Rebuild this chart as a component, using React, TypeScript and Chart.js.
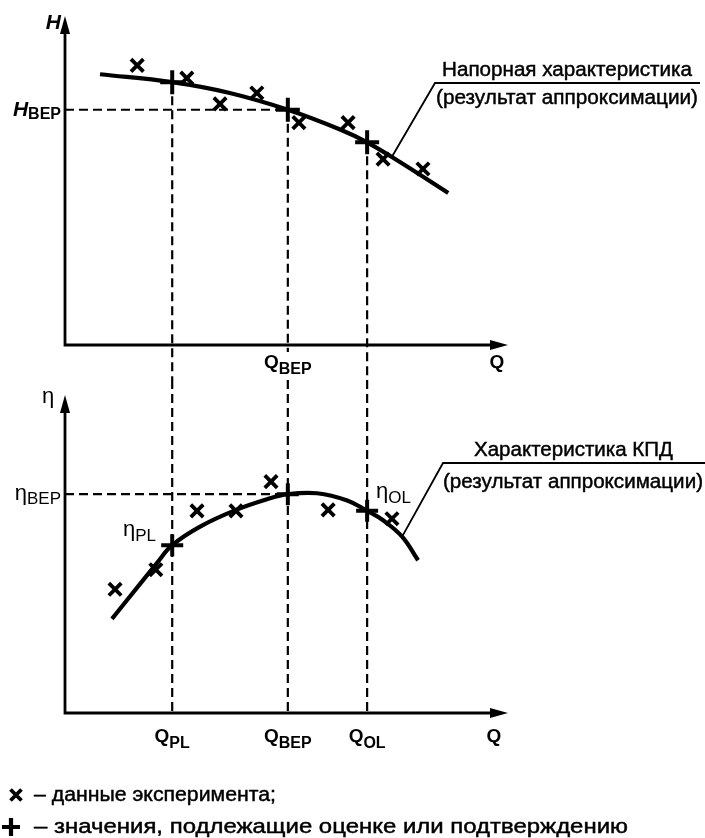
import React, { useEffect, useRef } from 'react';
import { Chart, registerables } from 'chart.js';

Chart.register(...registerables);

// ---------- scale ranges ----------
const Q_MIN = 0;
const Q_MAX = 10;
const H_MIN = 0;
const H_MAX = 10;
const ETA_MIN = 0;
const ETA_MAX = 10.1;

// ---------- key operating points: Q_PL, Q_BEP, Q_OL ----------
const keyQ = [2.42, 5.03, 6.82];
const keyNames = ['PL', 'BEP', 'OL'];

// ---------- head characteristic (top) ----------
const headFitQ = [0.79, 2.42, 3.72, 5.03, 6.21, 6.82, 7.56, 8.65];
const headFitH = [8.23, 7.99, 7.66, 7.15, 6.55, 6.16, 5.56, 4.62];
const headExpQ = [1.63, 2.75, 3.5, 4.33, 5.28, 6.39, 7.18, 8.08];
const headExpH = [8.5, 8.11, 7.33, 7.66, 6.76, 6.76, 5.65, 5.35];
const headKeyH = [7.99, 7.15, 6.16];
const headLeaderQ = 7.38;

// ---------- efficiency characteristic (bottom) ----------
const effFitQ = [1.06, 2.08, 2.42, 3.05, 3.86, 4.56, 5.03, 5.69, 6.37, 6.82, 7.18, 7.61, 7.97];
const effFitE = [2.99, 4.77, 5.33, 5.92, 6.45, 6.79, 6.95, 6.98, 6.75, 6.42, 6.12, 5.6, 4.85];
const effExpQ = [1.13, 2.05, 2.98, 3.86, 4.65, 5.94, 7.38];
const effExpE = [3.93, 4.55, 6.42, 6.42, 7.35, 6.45, 6.17];
const effKeyE = [5.33, 6.95, 6.42];
const effLeaderQ = 7.61;

// ---------- texts ----------
const headTitle = 'Напорная характеристика';
const effTitle = 'Характеристика КПД';
const fitNote = '(результат аппроксимации)';
const legendExp = '– данные эксперимента;';
const legendKey = '– значения, подлежащие оценке или подтверждению';

const FF = '"Liberation Sans", Arial, Helvetica, sans-serif';

const pts = (xs: number[], ys: number[]) => xs.map((x, i) => ({ x, y: ys[i] }));

function dashed(ctx: CanvasRenderingContext2D, x1: number, y1: number, x2: number, y2: number) {
  ctx.save();
  ctx.strokeStyle = '#000';
  ctx.lineWidth = 2.2;
  ctx.setLineDash([9, 5]);
  ctx.beginPath();
  ctx.moveTo(x1, y1);
  ctx.lineTo(x2, y2);
  ctx.stroke();
  ctx.restore();
}

function axes(ctx: CanvasRenderingContext2D, a: any) {
  ctx.save();
  ctx.strokeStyle = '#000';
  ctx.fillStyle = '#000';
  ctx.lineWidth = 2.8;
  ctx.lineJoin = 'miter';
  ctx.beginPath();
  ctx.moveTo(a.left, a.top + 12);
  ctx.lineTo(a.left, a.bottom);
  ctx.lineTo(a.right - 12, a.bottom);
  ctx.stroke();
  ctx.beginPath();
  ctx.moveTo(a.left, a.top);
  ctx.lineTo(a.left - 5, a.top + 18);
  ctx.lineTo(a.left + 5, a.top + 18);
  ctx.closePath();
  ctx.fill();
  ctx.beginPath();
  ctx.moveTo(a.right, a.bottom);
  ctx.lineTo(a.right - 18, a.bottom - 5);
  ctx.lineTo(a.right - 18, a.bottom + 5);
  ctx.closePath();
  ctx.fill();
  ctx.restore();
}

function stretchText(ctx: CanvasRenderingContext2D, s: string, left: number, cy: number, font: string, width: number) {
  ctx.save();
  ctx.font = font;
  ctx.fillStyle = '#000';
  ctx.strokeStyle = '#000';
  ctx.lineWidth = 0.45;
  ctx.textAlign = 'left';
  ctx.textBaseline = 'middle';
  const w = ctx.measureText(s).width;
  ctx.translate(left, cy);
  ctx.scale(width / w, 1);
  ctx.fillText(s, 0, 0);
  ctx.strokeText(s, 0, 0);
  ctx.restore();
}

function subText(
  ctx: CanvasRenderingContext2D,
  main: string,
  sub: string,
  x: number,
  base: number,
  mainFont: string,
  subFont: string,
  drop: number,
  align: 'left' | 'center' | 'right',
  bg = false
) {
  ctx.save();
  ctx.font = mainFont;
  const w1 = ctx.measureText(main).width;
  ctx.font = subFont;
  const w2 = sub ? ctx.measureText(sub).width : 0;
  const tw = w1 + w2;
  const left = align === 'center' ? x - tw / 2 : align === 'right' ? x - tw : x;
  if (bg) {
    ctx.fillStyle = '#fff';
    ctx.fillRect(left - 1, base - 16, tw + 2, 24 + drop);
  }
  ctx.fillStyle = '#000';
  ctx.textAlign = 'left';
  ctx.textBaseline = 'alphabetic';
  ctx.font = mainFont;
  ctx.fillText(main, left, base);
  if (sub) {
    ctx.font = subFont;
    ctx.fillText(sub, left + w1, base + drop);
  }
  ctx.restore();
}

function leader(ctx: CanvasRenderingContext2D, x1: number, y1: number, x2: number, y2: number, x3: number) {
  ctx.save();
  ctx.strokeStyle = '#000';
  ctx.lineWidth = 1.8;
  ctx.beginPath();
  ctx.moveTo(x1, y1);
  ctx.lineTo(x2, y2);
  ctx.lineTo(x3, y2);
  ctx.stroke();
  ctx.restore();
}

function curvePoint(chart: any, q: number) {
  const xs = chart.scales.x;
  const px = xs.getPixelForValue(q);
  const line = chart.getDatasetMeta(0).dataset;
  const p = line && line.interpolate ? line.interpolate({ x: px }, 'x') : null;
  return p ? { x: p.x, y: p.y } : { x: px, y: 0 };
}

function drawCrossRot(ctx: CanvasRenderingContext2D, x: number, y: number, r: number, lw: number) {
  ctx.save();
  ctx.strokeStyle = '#000';
  ctx.lineWidth = lw;
  ctx.beginPath();
  ctx.moveTo(x - r, y - r);
  ctx.lineTo(x + r, y + r);
  ctx.moveTo(x + r, y - r);
  ctx.lineTo(x - r, y + r);
  ctx.stroke();
  ctx.restore();
}

function drawPlus(ctx: CanvasRenderingContext2D, x: number, y: number, r: number, lw: number) {
  ctx.save();
  ctx.strokeStyle = '#000';
  ctx.lineWidth = lw;
  ctx.beginPath();
  ctx.moveTo(x - r, y);
  ctx.lineTo(x + r, y);
  ctx.moveTo(x, y - r);
  ctx.lineTo(x, y + r);
  ctx.stroke();
  ctx.restore();
}

function datasets(fitQ: number[], fitV: number[], expQ: number[], expV: number[], keyV: number[], plusR: number) {
  return [
    {
      data: pts(fitQ, fitV),
      showLine: true,
      borderColor: '#000',
      borderWidth: 4.2,
      pointRadius: 0,
      tension: 0.4,
      fill: false,
      clip: false,
      order: 3,
    },
    {
      data: pts(expQ, expV),
      showLine: false,
      pointStyle: 'crossRot',
      pointRadius: 8.8,
      pointBorderWidth: 3.8,
      pointBorderColor: '#000',
      borderColor: '#000',
      clip: false,
      order: 2,
    },
    {
      data: pts(keyQ, keyV),
      showLine: false,
      pointStyle: 'cross',
      pointRadius: plusR,
      pointBorderWidth: 4,
      pointBorderColor: '#000',
      borderColor: '#000',
      clip: false,
      order: 1,
    },
  ];
}

function baseOptions(padding: any, yMin: number, yMax: number) {
  return {
    responsive: false,
    animation: false,
    events: [],
    layout: { padding },
    scales: {
      x: { type: 'linear', min: Q_MIN, max: Q_MAX, display: false },
      y: { type: 'linear', min: yMin, max: yMax, display: false },
    },
    plugins: { legend: { display: false }, tooltip: { enabled: false } },
  };
}

export default function App() {
  const topRef = useRef<HTMLCanvasElement>(null);
  const botRef = useRef<HTMLCanvasElement>(null);

  useEffect(() => {
    const qMain = `bold 19px ${FF}`;
    const qSub = `bold 16px ${FF}`;
    const tFont = `20px ${FF}`;

    const topPlugin = {
      id: 'topDecor',
      beforeDatasetsDraw(chart: any) {
        const ctx = chart.ctx;
        const xs = chart.scales.x;
        const ys = chart.scales.y;
        const a = chart.chartArea;
        keyQ.forEach((q, i) => {
          const x = xs.getPixelForValue(q);
          const y = ys.getPixelForValue(headKeyH[i]);
          dashed(ctx, x, y, x, chart.height);
        });
        const xb = xs.getPixelForValue(keyQ[1]);
        const yb = ys.getPixelForValue(headKeyH[1]);
        dashed(ctx, a.left, yb, xb, yb);
        axes(ctx, a);
      },
      afterDatasetsDraw(chart: any) {
        const ctx = chart.ctx;
        const xs = chart.scales.x;
        const ys = chart.scales.y;
        const yb = ys.getPixelForValue(headKeyH[1]);
        subText(ctx, 'H', '', 61, 29, `italic bold 21px ${FF}`, qSub, 0, 'right');
        subText(ctx, 'H', 'BEP', 61, yb + 6, `italic bold 21px ${FF}`, qSub, 3, 'right');
        subText(ctx, 'Q', 'BEP', xs.getPixelForValue(keyQ[1]), 368, qMain, qSub, 6, 'center', true);
        subText(ctx, 'Q', '', 497, 368, qMain, qSub, 0, 'center');
        const p = curvePoint(chart, headLeaderQ);
        leader(ctx, p.x, p.y, 435, 83, 700);
        stretchText(ctx, headTitle, 442, 70, tFont, 250);
        stretchText(ctx, fitNote, 436, 98, tFont, 262);
      },
    };

    const botPlugin = {
      id: 'botDecor',
      beforeDatasetsDraw(chart: any) {
        const ctx = chart.ctx;
        const xs = chart.scales.x;
        const ys = chart.scales.y;
        const a = chart.chartArea;
        keyQ.forEach((q) => {
          const x = xs.getPixelForValue(q);
          dashed(ctx, x, 0, x, a.bottom);
        });
        const xb = xs.getPixelForValue(keyQ[1]);
        const yb = ys.getPixelForValue(effKeyE[1]);
        dashed(ctx, a.left, yb, xb, yb);
        axes(ctx, a);
      },
      afterDatasetsDraw(chart: any) {
        const ctx = chart.ctx;
        const xs = chart.scales.x;
        const ys = chart.scales.y;
        const a = chart.chartArea;
        const f = `22px ${FF}`;
        const fs = `17px ${FF}`;
        subText(ctx, 'η', '', 48, a.top + 8, f, fs, 0, 'center');
        const yb = ys.getPixelForValue(effKeyE[1]);
        subText(ctx, 'η', 'BEP', 61, yb + 6, f, fs, 4, 'right');
        const ypl = ys.getPixelForValue(effKeyE[0]);
        subText(ctx, 'η', keyNames[0], 156, ypl - 9, f, fs, 5, 'right');
        const yol = ys.getPixelForValue(effKeyE[2]);
        subText(ctx, 'η', keyNames[2], 376, yol - 13, f, fs, 5, 'left');
        keyQ.forEach((q, i) => {
          subText(ctx, 'Q', keyNames[i], xs.getPixelForValue(q), a.bottom + 29, qMain, qSub, 6, 'center');
        });
        subText(ctx, 'Q', '', 494, a.bottom + 29, qMain, qSub, 0, 'center');
        const p = curvePoint(chart, effLeaderQ);
        leader(ctx, p.x, p.y, 443, 83, 705);
        stretchText(ctx, effTitle, 474, 70, tFont, 199);
        stretchText(ctx, fitNote, 443, 102, tFont, 260);
        // legend
        drawCrossRot(ctx, 16, 415, 5.5, 3.8);
        stretchText(ctx, legendExp, 34, 415, tFont, 242);
        drawPlus(ctx, 11, 447, 9, 4.2);
        stretchText(ctx, legendKey, 34, 447, tFont, 594);
      },
    };

    const c1 = new Chart(topRef.current as HTMLCanvasElement, {
      type: 'scatter',
      data: { datasets: datasets(headFitQ, headFitH, headExpQ, headExpH, headKeyH, 12) as any },
      options: baseOptions({ left: 65, right: 197, top: 12, bottom: 35 }, H_MIN, H_MAX) as any,
      plugins: [topPlugin],
    });
    const c2 = new Chart(botRef.current as HTMLCanvasElement, {
      type: 'scatter',
      data: { datasets: datasets(effFitQ, effFitE, effExpQ, effExpE, effKeyE, 11) as any },
      options: baseOptions({ left: 65, right: 197, top: 9, bottom: 125 }, ETA_MIN, ETA_MAX) as any,
      plugins: [botPlugin],
    });
    return () => {
      c1.destroy();
      c2.destroy();
    };
  }, []);

  return (
    <div style={{ position: 'absolute', left: 0, top: 0, width: 705, height: 838, background: '#fff' }}>
      <canvas ref={topRef} width={705} height={380} style={{ position: 'absolute', left: 0, top: 0 }} />
      <canvas ref={botRef} width={705} height={458} style={{ position: 'absolute', left: 0, top: 380 }} />
    </div>
  );
}
